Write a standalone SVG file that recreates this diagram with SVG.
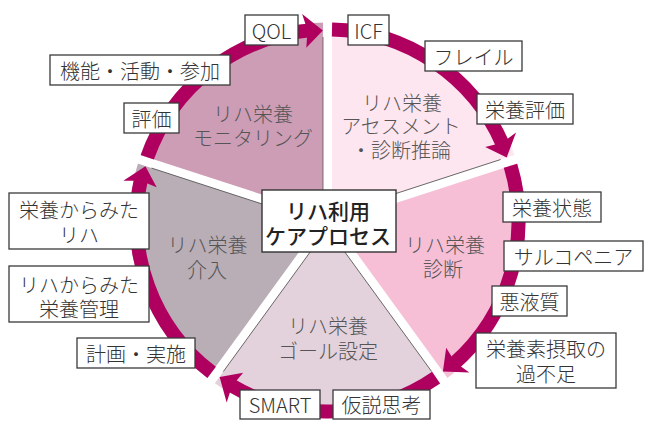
<svg xmlns="http://www.w3.org/2000/svg" width="645" height="430" viewBox="0 0 645 430">
<defs>
<style>
.wedge{stroke:none}
.sec text{font-family:"Noto Sans CJK JP","Noto Sans",sans-serif;font-size:20px;font-weight:300;fill:#555;text-anchor:middle}
.lbl rect{fill:#fff;stroke:#3a3a3a;stroke-width:1.3}
.lbl text{font-family:"Noto Sans CJK JP","Noto Sans",sans-serif;font-size:20px;font-weight:300;fill:#333;text-anchor:middle}
.ctr rect{fill:#fff;stroke:#333;stroke-width:1.4}
.ctr text{font-family:"Noto Sans CJK JP","Noto Sans",sans-serif;font-size:21px;font-weight:500;fill:#222;text-anchor:middle}
</style>
<g id="seg">
<path d="M 332 29.55 A 191 191 0 0 1 502.66 144.34" fill="none" stroke="#b0005f" stroke-width="14"/>
<path d="M 506.71 157.39 L 516.01 132.60 L 501.99 142.81 L 485.20 146.96 Z" fill="#b0005f"/>
</g>
<line id="gapline" x1="327.5" y1="220.5" x2="327.5" y2="19" stroke="#fff" stroke-width="9"/>
<line id="edgeL" x1="323" y1="205" x2="323" y2="37" stroke="#555" stroke-width="0.8"/>
<line id="edgeR" x1="332" y1="205" x2="332" y2="37" stroke="#555" stroke-width="0.8"/>
</defs>

<g id="monitoring" class="sec">
<path class="wedge" d="M 327.5 220.5 L 139.19 159.31 A 198 198 0 0 1 327.5 22.5 Z" fill="#cc9db5"/>
<text x="253" y="121.5">リハ栄養</text>
<text x="253" y="146">モニタリング</text>
</g>
<g id="assessment" class="sec">
<path class="wedge" d="M 327.5 220.5 L 327.5 22.5 A 198 198 0 0 1 515.81 159.31 Z" fill="#fde6ef"/>
<text x="402" y="111">リハ栄養</text>
<text x="401" y="134">アセスメント</text>
<text x="401" y="157.5">・診断推論</text>
</g>
<g id="diagnosis" class="sec">
<path class="wedge" d="M 327.5 220.5 L 515.81 159.31 A 198 198 0 0 1 443.88 380.69 Z" fill="#f6bfd6"/>
<text x="445" y="253">リハ栄養</text>
<text x="443" y="277">診断</text>
</g>
<g id="goal" class="sec">
<path class="wedge" d="M 327.5 220.5 L 443.88 380.69 A 198 198 0 0 1 211.12 380.69 Z" fill="#e3d2dc"/>
<text x="328" y="333.5">リハ栄養</text>
<text x="328" y="358.5">ゴール設定</text>
</g>
<g id="intervention" class="sec">
<path class="wedge" d="M 327.5 220.5 L 211.12 380.69 A 198 198 0 0 1 139.19 159.31 Z" fill="#b9adb6"/>
<text x="207.5" y="252.5">リハ栄養</text>
<text x="207" y="278">介入</text>
</g>

<g id="gaps">
<use href="#gapline"/>
<use href="#gapline" transform="rotate(72 327.5 220.5)"/>
<use href="#gapline" transform="rotate(144 327.5 220.5)"/>
<use href="#gapline" transform="rotate(216 327.5 220.5)"/>
<use href="#gapline" transform="rotate(288 327.5 220.5)"/>
<use href="#edgeL"/>
<use href="#edgeL" transform="rotate(72 327.5 220.5)"/>
<use href="#edgeR" transform="rotate(144 327.5 220.5)"/>
<use href="#edgeL" transform="rotate(216 327.5 220.5)"/>
<use href="#edgeL" transform="rotate(288 327.5 220.5)"/>
</g>

<g id="connectors">
<use href="#seg"/>
<use href="#seg" transform="rotate(72 327.5 220.5)"/>
<use href="#seg" transform="rotate(144 327.5 220.5)"/>
<use href="#seg" transform="rotate(216 327.5 220.5)"/>
<use href="#seg" transform="rotate(288 327.5 220.5)"/>
</g>

<g id="lbl-qol" class="lbl"><rect x="245" y="15" width="53" height="30"/><text x="271.5" y="39">QOL</text></g>
<g id="lbl-icf" class="lbl"><rect x="348" y="15" width="41" height="30"/><text x="368.5" y="39">ICF</text></g>
<g id="lbl-frailty" class="lbl"><rect x="425" y="41" width="97" height="30"/><text x="473.5" y="64.5">フレイル</text></g>
<g id="lbl-nutassess" class="lbl"><rect x="477" y="94" width="96" height="30"/><text x="525" y="117.5">栄養評価</text></g>
<g id="lbl-nutstate" class="lbl"><rect x="503" y="192" width="98" height="30"/><text x="552" y="215.5">栄養状態</text></g>
<g id="lbl-sarco" class="lbl"><rect x="504" y="241" width="139" height="30"/><text x="573.5" y="264.5">サルコペニア</text></g>
<g id="lbl-cachexia" class="lbl"><rect x="492" y="286" width="75" height="30"/><text x="529.5" y="309.5">悪液質</text></g>
<g id="lbl-intake" class="lbl"><rect x="476" y="333" width="140" height="55"/><text x="546" y="357">栄養素摂取の</text><text x="546" y="382">過不足</text></g>
<g id="lbl-hypo" class="lbl"><rect x="333" y="390" width="97" height="29"/><text x="381.5" y="412.5">仮説思考</text></g>
<g id="lbl-smart" class="lbl"><rect x="240" y="390" width="80" height="29"/><text x="280" y="413">SMART</text></g>
<g id="lbl-plan" class="lbl"><rect x="77" y="338" width="118" height="30"/><text x="136" y="361.5">計画・実施</text></g>
<g id="lbl-rehanut" class="lbl"><rect x="9" y="266" width="140" height="56"/><text x="79" y="292.5">リハからみた</text><text x="79" y="316.5">栄養管理</text></g>
<g id="lbl-nutreha" class="lbl"><rect x="9" y="193" width="140" height="56"/><text x="79" y="218">栄養からみた</text><text x="79" y="243">リハ</text></g>
<g id="lbl-eval" class="lbl"><rect x="124" y="103" width="55" height="30"/><text x="151.5" y="126.5">評価</text></g>
<g id="lbl-func" class="lbl"><rect x="50" y="55" width="180" height="30"/><text x="140" y="78.5">機能・活動・参加</text></g>

<g id="center" class="ctr">
<rect x="262" y="190" width="134" height="62"/>
<text x="328" y="218.5">リハ利用</text>
<text x="328" y="243.5">ケアプロセス</text>
</g>
</svg>
